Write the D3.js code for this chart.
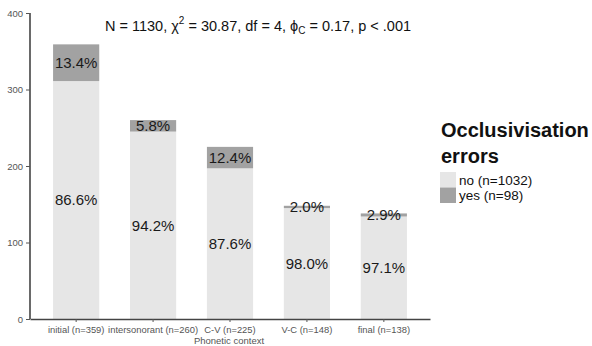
<!DOCTYPE html>
<html>
<head>
<meta charset="utf-8">
<script src="https://cdn.jsdelivr.net/npm/d3@7"></script>
<style>
  html, body { margin: 0; padding: 0; background: #fff; }
  svg { display: block; font-family: "Liberation Sans", Arial, sans-serif; }
</style>
</head>
<body>
<svg id="chart" width="592" height="346"></svg>
<script>
// Phonetic contexts and counts of occlusivisation errors (no / yes)
const contexts = ["initial (n=359)", "intersonorant (n=260)", "C-V (n=225)", "V-C (n=148)", "final (n=138)"];
const noCounts = [311, 245, 197, 145, 134];
const yesCounts = [48, 15, 28, 3, 4];
const noPct = ["86.6%", "94.2%", "87.6%", "98.0%", "97.1%"];
const yesPct = ["13.4%", "5.8%", "12.4%", "2.0%", "2.9%"];
const yTicks = [0, 100, 200, 300, 400];
const legendLabels = ["no (n=1032)", "yes (n=98)"];
const fills = ["#e6e6e6", "#a2a2a2"];

const svg = d3.select("#chart");

const x = d3.scaleBand()
  .domain(contexts)
  .range([30, 430])
  .paddingInner(0.4)
  .paddingOuter(0.3);

const y = d3.scaleLinear().domain([0, 400]).range([319, 13]);

const rows = contexts.map((c, i) => ({
  c, no: noCounts[i], yes: yesCounts[i], noP: noPct[i], yesP: yesPct[i]
}));

// stacked bars: "no" at the bottom, "yes" on top
const g = svg.append("g");
rows.forEach(d => {
  g.append("rect")
    .attr("x", x(d.c)).attr("width", x.bandwidth())
    .attr("y", y(d.no)).attr("height", y(0) - y(d.no))
    .attr("fill", fills[0]);
  g.append("rect")
    .attr("x", x(d.c)).attr("width", x.bandwidth())
    .attr("y", y(d.no + d.yes)).attr("height", y(d.no) - y(d.no + d.yes))
    .attr("fill", fills[1]);
});

// percentage labels centred in each segment
rows.forEach(d => {
  const cx = x(d.c) + x.bandwidth() / 2;
  g.append("text")
    .attr("x", cx).attr("y", y(d.no / 2))
    .attr("dy", "0.36em").attr("text-anchor", "middle")
    .attr("font-size", 15).attr("fill", "#1a1a1a")
    .text(d.noP);
  g.append("text")
    .attr("x", cx).attr("y", y(d.no + d.yes / 2))
    .attr("dy", "0.36em").attr("text-anchor", "middle")
    .attr("font-size", 15).attr("fill", "#1a1a1a")
    .text(d.yesP);
});

// axes
const yAxis = svg.append("g")
  .attr("transform", "translate(30,0)")
  .call(d3.axisLeft(y).tickValues(yTicks).tickSize(4).tickPadding(3));
const xAxis = svg.append("g")
  .attr("transform", "translate(0,319)")
  .call(d3.axisBottom(x).tickSize(3).tickPadding(4.5).tickSizeOuter(0));

[yAxis, xAxis].forEach(a => {
  a.select(".domain").attr("stroke", "#444").attr("stroke-width", 1.6);
  a.selectAll(".tick line").attr("stroke", "#555");
  a.selectAll("text").attr("fill", "#555").attr("font-family", "Liberation Sans, Arial, sans-serif");
});
yAxis.selectAll("text").attr("font-size", 9.5);
xAxis.selectAll("text").attr("font-size", 9.4);
yAxis.select(".domain").attr("d", "M0,319V13");

svg.append("text")
  .attr("x", 229).attr("y", 344)
  .attr("text-anchor", "middle")
  .attr("font-size", 9.5).attr("fill", "#555")
  .text("Phonetic context");

// test statistics
const title = svg.append("text")
  .attr("x", 105).attr("y", 31)
  .attr("font-size", 14.5).attr("fill", "#111");
title.append("tspan").text("N = 1130,  χ");
title.append("tspan").attr("font-size", 10).attr("dy", -7).text("2");
title.append("tspan").attr("dy", 7).text(" = 30.87,  df = 4,  ϕ");
title.append("tspan").attr("font-size", 10).attr("dy", 3).text("C");
title.append("tspan").attr("dy", -3).text(" = 0.17,  p < .001");

// legend
const lg = svg.append("g");
lg.append("text").attr("x", 441).attr("y", 137)
  .attr("font-size", 20).attr("font-weight", "bold").attr("fill", "#111")
  .text("Occlusivisation");
lg.append("text").attr("x", 441).attr("y", 163)
  .attr("font-size", 20).attr("font-weight", "bold").attr("fill", "#111")
  .text("errors");
legendLabels.forEach((t, i) => {
  lg.append("rect")
    .attr("x", 440).attr("y", 172 + i * 15.5)
    .attr("width", 16).attr("height", 15.5)
    .attr("fill", fills[i]);
  lg.append("text")
    .attr("x", 459).attr("y", 180 + i * 15.5)
    .attr("dy", "0.36em")
    .attr("font-size", 13.5).attr("fill", "#111")
    .text(t);
});
</script>
</body>
</html>
